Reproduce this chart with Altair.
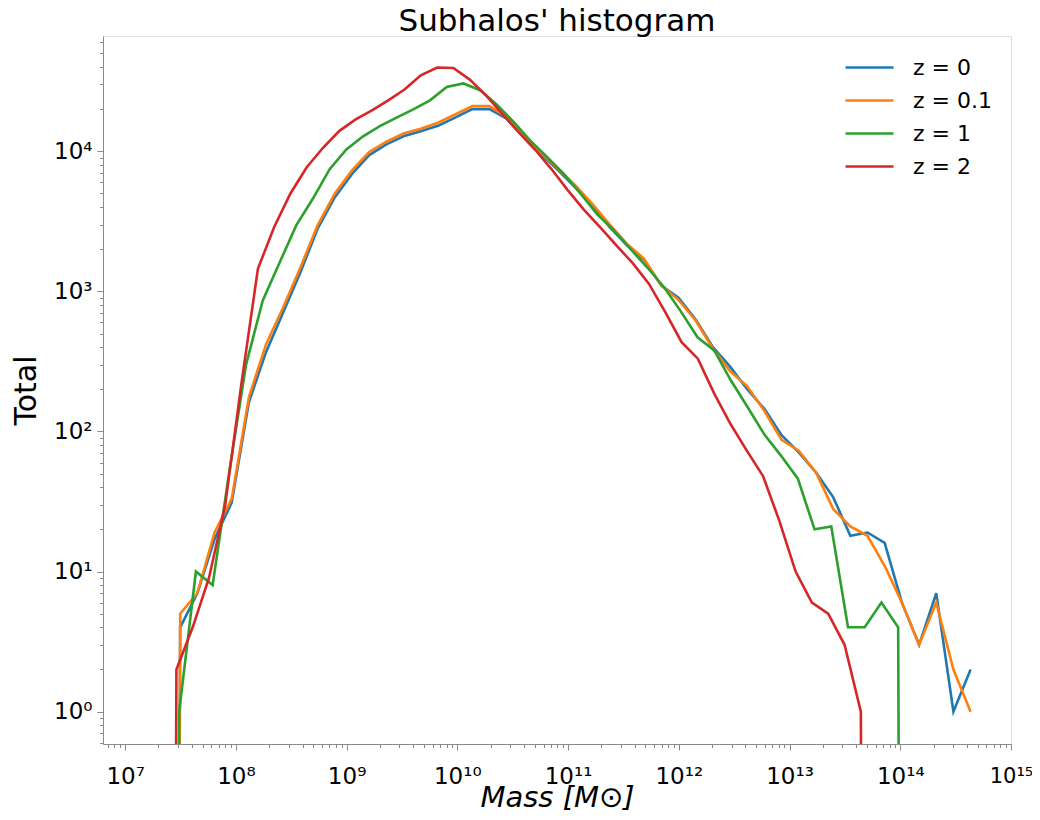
import json
import altair as alt
import pandas as pd

# ---- data (log10 of mass, counts) ----
# z = 0 and z = 0.1 share the same bin positions
logm_a = [7.342, 7.497, 7.652, 7.807, 7.962, 8.118, 8.273, 8.428, 8.583, 8.738,
          8.894, 9.049, 9.204, 9.359, 9.514, 9.669, 9.825, 9.980, 10.135, 10.290,
          10.445, 10.601, 10.756, 10.911, 11.066, 11.221, 11.376, 11.532, 11.687, 11.842,
          11.997, 12.152, 12.308, 12.463, 12.618, 12.773, 12.928, 13.083, 13.239, 13.394,
          13.549, 13.704, 13.859, 14.015, 14.170, 14.325, 14.480, 14.635]
count_z0 = [0, 4, 7, 17, 31, 162, 370, 710, 1370, 2800,
            4700, 6900, 9400, 11200, 12800, 13900, 15200, 17400, 20000, 20000,
            17100, 12600, 9600, 7300, 5500, 4050, 2880, 2130, 1680, 1100,
            900, 630, 400, 290, 200, 145, 94, 71, 51, 34,
            18, 19, 16, 6, 3, 7, 1, 2]
count_z01 = [0, 5, 7, 19, 33, 176, 420, 770, 1480, 2960,
             5000, 7300, 9900, 11700, 13400, 14500, 16000, 18300, 21000, 21000,
             17600, 12800, 9800, 7500, 5700, 4200, 3000, 2180, 1710, 1100,
             870, 620, 390, 270, 210, 140, 87, 73, 51, 28,
             21, 18, 11, 6, 3, 6, 2, 1]

logm_z1 = [7.337, 7.488, 7.639, 7.790, 7.941, 8.092, 8.243, 8.394, 8.545, 8.696,
           8.847, 8.998, 9.149, 9.300, 9.451, 9.602, 9.753, 9.904, 10.055, 10.206,
           10.357, 10.508, 10.659, 10.810, 10.961, 11.112, 11.263, 11.414, 11.565, 11.716,
           11.867, 12.018, 12.169, 12.320, 12.471, 12.622, 12.773, 12.924, 13.075, 13.226,
           13.377, 13.528, 13.679, 13.830, 13.981, 14.132]
count_z1 = [0, 1, 10, 8, 52, 300, 862, 1600, 2960, 4600,
            7450, 10300, 12800, 15100, 17400, 19900, 23100, 28800, 30500, 27300,
            21500, 16200, 11900, 9100, 6900, 5000, 3550, 2730, 2000, 1480,
            1070, 720, 470, 379, 231, 149, 95, 67, 46, 20,
            21, 4, 4, 6, 4, 0]

logm_z2 = [7.315, 7.463, 7.610, 7.757, 7.904, 8.051, 8.199, 8.346, 8.493, 8.640,
           8.787, 8.935, 9.082, 9.229, 9.376, 9.523, 9.670, 9.818, 9.965, 10.112,
           10.259, 10.406, 10.553, 10.701, 10.848, 10.995, 11.142, 11.289, 11.436, 11.584,
           11.731, 11.878, 12.025, 12.172, 12.319, 12.467, 12.614, 12.761, 12.908, 13.055,
           13.202, 13.349, 13.497, 13.644, 13.791]
count_z2 = [0, 2, 4, 9, 30, 222, 1450, 2880, 5000, 7700,
            10600, 14000, 16900, 19600, 23100, 27600, 34900, 39600, 39300, 32500,
            25100, 18500, 13700, 10300, 7500, 5300, 3830, 2880, 2130, 1590,
            1130, 711, 434, 331, 187, 113, 73, 48, 23, 10,
            6, 5, 3, 1, 0]

series_labels = ["z = 0", "z = 0.1", "z = 1", "z = 2"]
series_colors = ["#1f77b4", "#ff7f0e", "#2ca02c", "#d62728"]

rows = []
for lab, lm, cnt in [("z = 0", logm_a, count_z0), ("z = 0.1", logm_a, count_z01),
                     ("z = 1", logm_z1, count_z1), ("z = 2", logm_z2, count_z2)]:
    for i, (m, c) in enumerate(zip(lm, cnt)):
        # empty bins fall off the bottom of the log axis, as in matplotlib
        rows.append({"z": lab, "mass": 10 ** m, "count": c,
                     "plot_count": c if c > 0 else 1e-30, "idx": i})
df = pd.DataFrame(rows)

# ---- axis ticks (major + minor on a log axis) ----
x_lo, x_hi = 10 ** 6.80, 10 ** 15.0
y_lo, y_hi = 10 ** -0.231, 10 ** 4.823
xticks = [m * 10.0 ** e for e in range(6, 16) for m in range(1, 10)
          if x_lo <= m * 10.0 ** e <= x_hi * 1.0001]
yticks = [m * 10.0 ** e for e in range(-1, 5) for m in range(1, 10)
          if y_lo <= m * 10.0 ** e <= y_hi]

sup = "⁰¹²³⁴⁵⁶⁷⁸⁹"
pow_labels = ["10" + "".join(sup[int(d)] for d in str(e)) for e in range(0, 16)]
L = "(log(datum.value)/LN10)"
major = f"abs({L} - round({L})) < 1e-6"
label_expr = f"{major} ? {json.dumps(pow_labels, ensure_ascii=False)}[round({L})] : ''"
tick_size = {"condition": {"test": major, "value": 6}, "value": 3.5}

FONT = "DejaVu Sans"

chart = alt.Chart(df).mark_line(clip=True, strokeWidth=2.6).encode(
    x=alt.X("mass:Q",
            scale=alt.Scale(type="log", domain=[x_lo, x_hi], nice=False),
            axis=alt.Axis(values=xticks, labelExpr=label_expr, tickSize=tick_size,
                          labelOverlap=False, labelFlush=False, labelBound=False,
                          labelFontSize={"condition": {"test": "datum.value > 5e14", "value": 21},
                                         "value": 23},
                          labelFont=FONT, labelPadding=15,
                          title="Mass [M⊙]", titleFontSize=29, titleFont=FONT,
                          titleFontStyle="italic", titleFontWeight="normal",
                          titleY=62, titleBaseline="alphabetic", grid=False)),
    y=alt.Y("plot_count:Q",
            scale=alt.Scale(type="log", domain=[y_lo, y_hi], nice=False),
            axis=alt.Axis(values=yticks, labelExpr=label_expr, tickSize=tick_size,
                          labelOverlap=False, labelFlush=False, labelBound=False,
                          labelFontSize=23, labelFont=FONT, labelPadding=5,
                          title="Total", titleFontSize=30, titleFont=FONT,
                          titleFontWeight="normal", titlePadding=12, grid=False)),
    color=alt.Color("z:N",
                    scale=alt.Scale(domain=series_labels, range=series_colors),
                    legend=alt.Legend(title=None, orient="none", legendX=753, legendY=18,
                                      symbolType="M-2,0H2", symbolSize=576,
                                      symbolStrokeWidth=2.6, labelFontSize=22,
                                      labelFont=FONT, labelColor="black",
                                      labelOffset=30, rowPadding=8, padding=0)),
    order=alt.Order("idx:Q"),
).properties(
    width=908, height=708,
    autosize="none",
    padding={"left": 95, "top": 28, "right": 21, "bottom": 68},
    title=alt.TitleParams("Subhalos' histogram", fontSize=31, font=FONT,
                          fontWeight="normal", color="black", offset=-7, anchor="middle"),
).configure_view(stroke="black", strokeWidth=1.2
).configure_axis(domainColor="black", tickColor="black", labelColor="black",
                 titleColor="black", domainWidth=1.2, tickWidth=1.1
).configure(background="white")

chart.save("out.html", embed_options={"renderer": "svg", "actions": False})
